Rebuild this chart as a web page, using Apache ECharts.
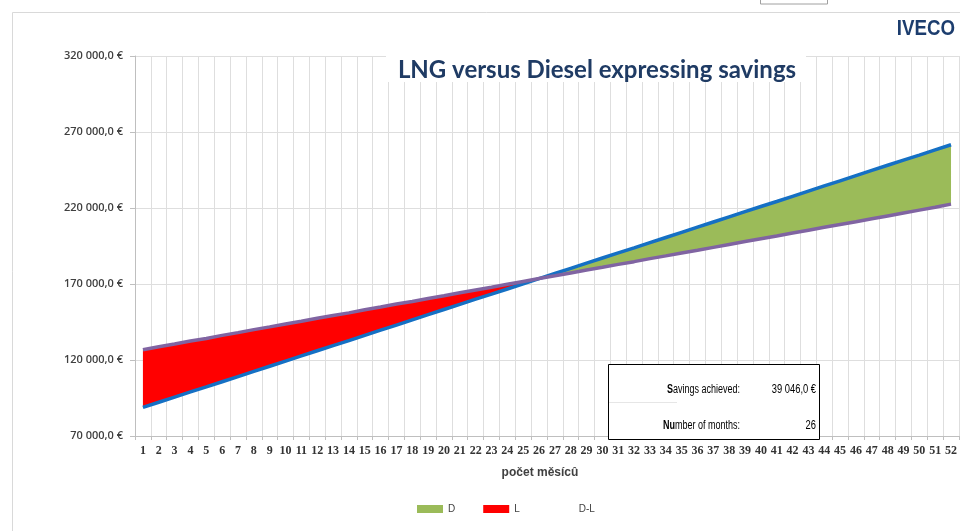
<!DOCTYPE html>
<html>
<head>
<meta charset="utf-8">
<script src="https://cdn.jsdelivr.net/npm/echarts@6/dist/echarts.min.js"></script>
<style>html,body{margin:0;padding:0;background:#fff}#c{width:960px;height:531px}</style>
</head>
<body>
<div id="c"></div>
<script>
const months = ['1','2','3','4','5','6','7','8','9','10','11','12','13','14','15','16','17','18','19','20','21','22','23','24','25','26','27','28','29','30','31','32','33','34','35','36','37','38','39','40','41','42','43','44','45','46','47','48','49','50','51','52'];
const dieselCost = [88800,92200,95600,99000,102300,105700,109100,112500,115900,119300,122700,126100,129500,132800,136200,139600,143000,146400,149800,153200,156600,160000,163300,166700,170100,173500,176900,180300,183700,187100,190500,193800,197200,200600,204000,207400,210800,214200,217600,221000,224300,227700,231100,234500,237900,241300,244700,248100,251500,254800,258200,261600];
const lngCost = [126700,128700,130500,132500,134200,136200,138000,140000,141800,143700,145500,147500,149300,151000,153100,154900,156800,158500,160500,162300,164200,166100,167900,169800,171700,173600,175400,177300,179200,181000,182900,184700,186700,188500,190400,192200,194100,196000,197900,199800,201600,203500,205400,207300,209200,211000,212900,214800,216700,218600,220500,222554];
const yMin = 70000, yMax = 320000, yStep = 50000;
const titleText = 'LNG versus Diesel expressing savings';
const xName = 'počet měsícû';
const savingsAchieved = 39046;
const monthsToBreakEven = 26;

function fmt(v){
  const parts = v.toFixed(1).split('.');
  return parts[0].replace(/\B(?=(\d{3})+(?!\d))/g,' ') + ',' + parts[1] + ' €';
}
const baseArr = dieselCost.map((d,i)=>Math.min(d,lngCost[i]));
const redArr = dieselCost.map((d,i)=>Math.max(0,lngCost[i]-d));
const greenArr = dieselCost.map((d,i)=>Math.max(0,d-lngCost[i]));

const chart = echarts.init(document.getElementById('c'), null, {renderer:'canvas'});
const lblFont = 'Liberation Sans, Arial, sans-serif';
const boxFont = '12px "Liberation Sans", Arial, sans-serif';
const boxRich = {b:{fontWeight:'bold', fontSize:12, fontFamily:'"Liberation Sans", Arial, sans-serif', fill:'#000'}};
chart.setOption({
  animation:false,
  backgroundColor:'#fff',
  grid:{left:135, top:56, width:826, height:380, containLabel:false},
  legend:{
    data:['D','L','D-L'], left:417, top:504, padding:0, icon:'rect', itemWidth:26, itemHeight:8, itemGap:28,
    textStyle:{fontSize:10, color:'#404040', fontFamily:lblFont}, selectedMode:false
  },
  xAxis:{
    type:'category', data:months, boundaryGap:true,
    name:xName, nameLocation:'middle', nameGap:31,
    nameTextStyle:{fontSize:12, fontWeight:'bold', color:'#404040', fontFamily:lblFont, padding:[0,14,0,0]},
    axisLine:{lineStyle:{color:'#bfbfbf'}},
    axisTick:{show:true, length:4, lineStyle:{color:'#bfbfbf'}},
    axisLabel:{interval:0, fontSize:12, fontWeight:'bold', color:'#333', fontFamily:'"Liberation Serif", "DejaVu Serif", serif', margin:9},
    splitLine:{show:true, lineStyle:{color:'#dedede', width:1}}
  },
  yAxis:{
    type:'value', min:yMin, max:yMax, interval:yStep,
    axisLine:{show:true, lineStyle:{color:'#bfbfbf'}},
    axisTick:{show:true, length:5, lineStyle:{color:'#bfbfbf'}},
    axisLabel:{formatter:fmt, fontSize:11, fontWeight:600, color:'#404040', fontFamily:'"Open Sans", sans-serif', margin:12},
    splitLine:{show:true, lineStyle:{color:'#dedede', width:1}}
  },
  series:[
    {name:'D-L', type:'line', stack:'f', data:baseArr, symbol:'none', silent:true,
     lineStyle:{width:0}, areaStyle:{color:'rgba(0,0,0,0)'}, itemStyle:{color:'rgba(255,255,255,0)'}},
    {name:'L', type:'line', stack:'f', data:redArr, symbol:'none', silent:true,
     lineStyle:{width:0}, areaStyle:{color:'#FF0000', opacity:1}, itemStyle:{color:'#FF0000'}},
    {name:'D', type:'line', stack:'f', data:greenArr, symbol:'none', silent:true,
     lineStyle:{width:0}, areaStyle:{color:'#9BBB59', opacity:1}, itemStyle:{color:'#9BBB59'}},
    {name:'Diesel', type:'line', data:dieselCost, symbol:'none', silent:true,
     lineStyle:{width:3.5, color:'#1570C4'}, itemStyle:{color:'#1570C4'}, z:4},
    {name:'LNG', type:'line', data:lngCost, symbol:'none', silent:true,
     lineStyle:{width:3.5, color:'#8064A2'}, itemStyle:{color:'#8064A2'}, z:4}
  ],
  graphic:[
    {type:'line', shape:{x1:12.5,y1:12.5,x2:960,y2:12.5}, style:{stroke:'#d9d9d9', lineWidth:1}, z:10},
    {type:'line', shape:{x1:12.5,y1:12.5,x2:12.5,y2:531}, style:{stroke:'#d9d9d9', lineWidth:1}, z:10},
    {type:'rect', shape:{x:760.5,y:-6,width:67,height:10}, style:{fill:'#fff', stroke:'#a0a0a0', lineWidth:1}, z:10},
    {type:'rect', shape:{x:386,y:56,width:420,height:26}, style:{fill:'#fff'}, z:10},
    {type:'text', x:597, y:70, z:11, style:{text:titleText, fill:'#1F3B64', font:'bold 24px Lato, "Open Sans", sans-serif', align:'center', verticalAlign:'middle'}},
    {type:'text', x:955, y:29, z:11, style:{text:'IVECO', fill:'#1C3D6E', font:'bold 22px "Liberation Sans Narrow", "Liberation Sans", Arial, sans-serif', align:'right', verticalAlign:'middle'}, scaleX:0.85},
    {type:'rect', shape:{x:608.5,y:364.5,width:211,height:75}, style:{fill:'#fff', stroke:'#000', lineWidth:1}, z:20},
    {type:'line', shape:{x1:609,y1:402.5,x2:677,y2:402.5}, style:{stroke:'#e6e6e6', lineWidth:1}, z:21},
    {type:'text', x:740, y:390, z:21, scaleX:0.75, style:{text:'{b|S}avings achieved:', rich:boxRich, fill:'#000', font:boxFont, align:'right', verticalAlign:'middle'}},
    {type:'text', x:816, y:390, z:21, scaleX:0.78, style:{text:fmt(savingsAchieved), fill:'#000', font:boxFont, align:'right', verticalAlign:'middle'}},
    {type:'text', x:740, y:426, z:21, scaleX:0.75, style:{text:'{b|Nu}mber of months:', rich:boxRich, fill:'#000', font:boxFont, align:'right', verticalAlign:'middle'}},
    {type:'text', x:816, y:426, z:21, scaleX:0.78, style:{text:String(monthsToBreakEven), fill:'#000', font:boxFont, align:'right', verticalAlign:'middle'}}
  ]
});
</script>
</body>
</html>
